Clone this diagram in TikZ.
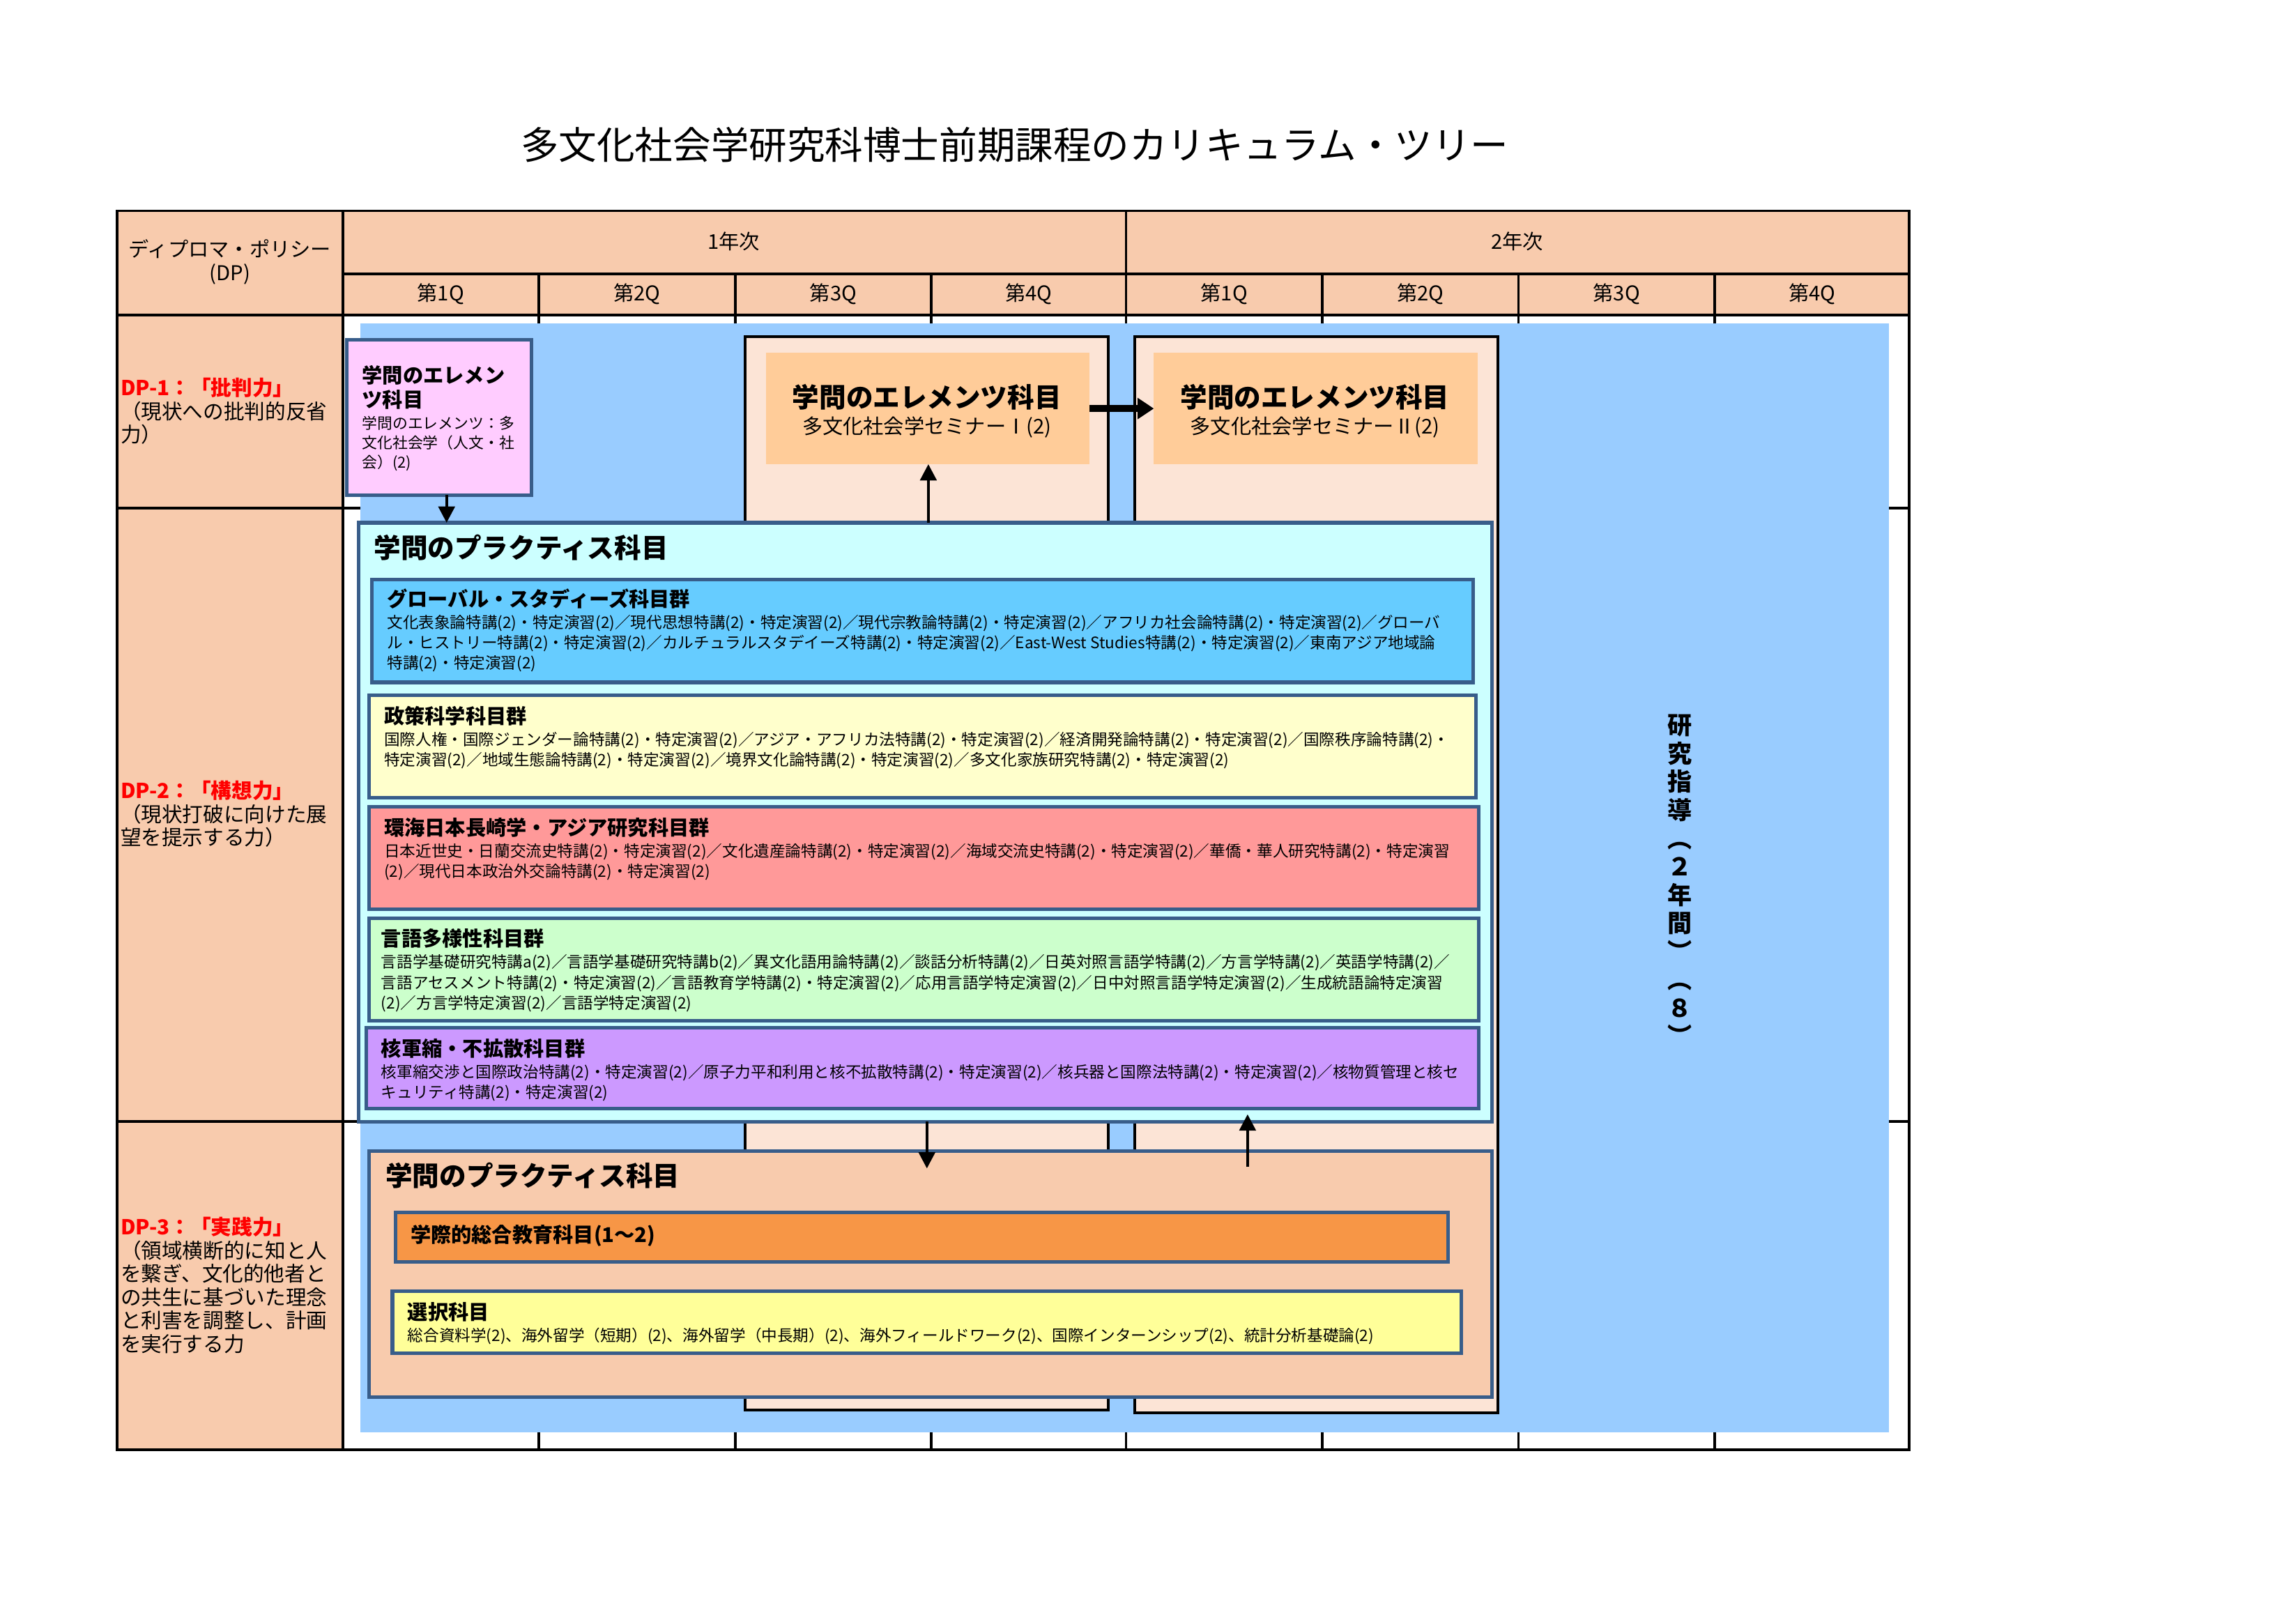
\documentclass[tikz,border=0pt]{standalone}
\usepackage{fontspec}
\setmainfont{Noto Sans CJK JP}
\usetikzlibrary{arrows.meta,fit,calc}
\definecolor{peach}{HTML}{F8CBAD}
\definecolor{bgblue}{HTML}{99CCFF}
\definecolor{lightpeach}{HTML}{FCE4D6}
\definecolor{semorange}{HTML}{FFCC99}
\definecolor{pinkbox}{HTML}{FFCCFF}
\definecolor{pracfill}{HTML}{CCFFFF}
\definecolor{globfill}{HTML}{66CCFF}
\definecolor{polfill}{HTML}{FFFFCC}
\definecolor{asiafill}{HTML}{FF9999}
\definecolor{langfill}{HTML}{CCFFCC}
\definecolor{nucfill}{HTML}{CC99FF}
\definecolor{interfill}{HTML}{F79646}
\definecolor{electfill}{HTML}{FFFF99}
\definecolor{dkblue}{HTML}{385D8A}
\tikzset{
  tbl/.style={line width=1pt, black},
  rect/.style={inner sep=0pt, outer sep=0pt},
  bbord/.style={rect, draw=dkblue, line width=1.3pt},
  kbord/.style={rect, draw=black, line width=1pt},
  arr/.style={line width=1.1pt, -{Triangle[length=6pt,width=6pt]}},
  fatarr/.style={line width=2.6pt, -{Triangle[length=6pt,width=7.5pt]}},
  tx/.style={inner sep=0pt, anchor=north west, align=left},
  course/.style={tx, font=\fontsize{5.8}{7.5}\selectfont},
  gtitle/.style={tx, font=\bfseries\fontsize{7.5}{9}\selectfont},
  bigtitle/.style={tx, font=\bfseries\fontsize{9.9}{12}\selectfont},
  hdr/.style={inner sep=0pt, align=center, font=\fontsize{7.5}{8.6}\selectfont},
  dptext/.style={tx, font=\fontsize{7.6}{8.6}\selectfont},
}
\begin{document}
\begin{tikzpicture}[x=0.18941mm, y=-0.18941mm]
\useasboundingbox (0,0) rectangle (1568,1109);
\fill[white] (0,0) rectangle (1568,1109);

% title
\node[inner sep=0pt, font=\fontsize{14}{16}\selectfont] (title) at (693,99) {多文化社会学研究科博士前期課程のカリキュラム・ツリー};

% table fills
\fill[peach] (80,144) rectangle (1304,215);
\fill[peach] (80,215) rectangle (234,990);
% grid
\draw[tbl] (80,144) rectangle (1304,990);
\draw[tbl] (234,144) -- (234,990);
\draw[tbl] (769,144) -- (769,990);
\draw[tbl] (234,187) -- (1304,187);
\foreach \xx in {368,502,636,903,1037,1171} \draw[tbl] (\xx,187) -- (\xx,990);
\foreach \yy in {215,347,766} \draw[tbl] (80,\yy) -- (1304,\yy);

% header texts
\node[hdr] (dphead) at (157,179) {ディプロマ・ポリシー\\(DP)};
\node[hdr] (y1) at (501,165) {1年次};
\node[hdr] (y2) at (1036,165) {2年次};
\foreach \xx/\qq/\nm in {301/1/q11,435/2/q12,569/3/q13,702.5/4/q14,836/1/q21,970/2/q22,1104/3/q23,1237.5/4/q24}
  \node[hdr] (\nm) at (\xx,201) {第\qq Q};

% DP labels
\node[dptext] (dp1) at (82,257.9) {{\color{red}\bfseries DP-1：「批判力」}\\（現状への批判的反省\\力）};
\node[dptext] (dp2) at (82,532.9) {{\color{red}\bfseries DP-2：「構想力」}\\（現状打破に向けた展\\望を提示する力）};
\node[dptext] (dp3) at (82,830.9) {{\color{red}\bfseries DP-3：「実践力」}\\（領域横断的に知と人\\を繋ぎ、文化的他者と\\の共生に基づいた理念\\と利害を調整し、計画\\を実行する力};

% blue background
\node[rect, fill=bgblue, fit={(246,221)(1290,978)}] (bg) {};

% seminar outer boxes
\node[kbord, fill=lightpeach, fit={(509,230)(757,963)}] (semouter1) {};
\node[kbord, fill=lightpeach, fit={(775,230)(1023,965)}] (semouter2) {};
\node[rect, fill=semorange, fit={(523,241)(744,317)}] (sem1) {};
\node[rect, fill=semorange, fit={(788,241)(1009,317)}] (sem2) {};
\node[inner sep=0pt, font=\bfseries\fontsize{9.9}{12}\selectfont] (sem1t) at (633,271) {学問のエレメンツ科目};
\node[inner sep=0pt, font=\fontsize{7.5}{9}\selectfont] (sem1s) at (633,292) {多文化社会学セミナーⅠ(2)};
\node[inner sep=0pt, font=\bfseries\fontsize{9.9}{12}\selectfont] (sem2t) at (898,271) {学問のエレメンツ科目};
\node[inner sep=0pt, font=\fontsize{7.5}{9}\selectfont] (sem2s) at (898,292) {多文化社会学セミナーⅡ(2)};

% pink elements box
\node[bbord, fill=pinkbox, fit={(237,232)(363,338)}] (pink) {};
\node[tx, font=\bfseries\fontsize{7.5}{9.1}\selectfont] (pinkt) at (247,249) {学問のエレメン\\ツ科目};
\node[tx, font=\fontsize{5.6}{7.25}\selectfont] (pinkb) at (247,283.8) {学問のエレメンツ：多\\文化社会学（人文・社\\会）(2)};

% practice box
\node[bbord, fill=pracfill, fit={(245,357)(1019,766)}] (prac) {};
\node[bigtitle] (pract) at (255,364.7) {学問のプラクティス科目};

\node[bbord, fill=globfill, fit={(254,396)(1006,466)}] (glob) {};
\node[gtitle] (globt) at (264,402) {グローバル・スタディーズ科目群};
\node[course] (globb) at (264,419.6) {文化表象論特講(2)・特定演習(2)／現代思想特講(2)・特定演習(2)／現代宗教論特講(2)・特定演習(2)／アフリカ社会論特講(2)・特定演習(2)／グローバ\\ル・ヒストリー特講(2)・特定演習(2)／カルチュラルスタデイーズ特講(2)・特定演習(2)／East-West Studies特講(2)・特定演習(2)／東南アジア地域論\\特講(2)・特定演習(2)};

\node[bbord, fill=polfill, fit={(252,475)(1008,545)}] (pol) {};
\node[gtitle] (polt) at (262,482) {政策科学科目群};
\node[course] (polb) at (262,499.6) {国際人権・国際ジェンダー論特講(2)・特定演習(2)／アジア・アフリカ法特講(2)・特定演習(2)／経済開発論特講(2)・特定演習(2)／国際秩序論特講(2)・\\特定演習(2)／地域生態論特講(2)・特定演習(2)／境界文化論特講(2)・特定演習(2)／多文化家族研究特講(2)・特定演習(2)};

\node[bbord, fill=asiafill, fit={(252,551)(1010,621)}] (asia) {};
\node[gtitle] (asiat) at (262,558) {環海日本長崎学・アジア研究科目群};
\node[course] (asiab) at (262,575.6) {日本近世史・日蘭交流史特講(2)・特定演習(2)／文化遺産論特講(2)・特定演習(2)／海域交流史特講(2)・特定演習(2)／華僑・華人研究特講(2)・特定演習\\(2)／現代日本政治外交論特講(2)・特定演習(2)};

\node[bbord, fill=langfill, fit={(252,627)(1010,697)}] (lang) {};
\node[gtitle] (langt) at (260,634) {言語多様性科目群};
\node[course] (langb) at (260,651.6) {言語学基礎研究特講a(2)／言語学基礎研究特講b(2)／異文化語用論特講(2)／談話分析特講(2)／日英対照言語学特講(2)／方言学特講(2)／英語学特講(2)／\\言語アセスメント特講(2)・特定演習(2)／言語教育学特講(2)・特定演習(2)／応用言語学特定演習(2)／日中対照言語学特定演習(2)／生成統語論特定演習\\(2)／方言学特定演習(2)／言語学特定演習(2)};

\node[bbord, fill=nucfill, fit={(250,702)(1010,757)}] (nuc) {};
\node[gtitle] (nuct) at (260,709) {核軍縮・不拡散科目群};
\node[course] (nucb) at (260,726.6) {核軍縮交渉と国際政治特講(2)・特定演習(2)／原子力平和利用と核不拡散特講(2)・特定演習(2)／核兵器と国際法特講(2)・特定演習(2)／核物質管理と核セ\\キュリティ特講(2)・特定演習(2)};

% lower practice box
\node[bbord, fill=peach, fit={(252,786)(1019,954)}] (lower) {};
\node[bigtitle] (lowert) at (263,793.7) {学問のプラクティス科目};
\node[bbord, fill=interfill, fit={(270,828)(989,862)}] (inter) {};
\node[inner sep=0pt, anchor=west, font=\bfseries\fontsize{7.5}{9}\selectfont] (intert) at (280,844) {学際的総合教育科目(1～2)};
\node[bbord, fill=electfill, fit={(268,882)(998,924)}] (elect) {};
\node[gtitle] (electt) at (278,889) {選択科目};
\node[course] (electb) at (278,906.6) {総合資料学(2)、海外留学（短期）(2)、海外留学（中長期）(2)、海外フィールドワーク(2)、国際インターンシップ(2)、統計分析基礎論(2)};

% research guidance vertical text
\node[inner sep=0pt, align=center, font=\bfseries\fontsize{9}{10.4}\selectfont] (kenkyu) at (1147,601) {研\\究\\指\\導\\︵\\２\\年\\間\\︶\\︵\\８\\︶};

% connectors
\coordinate (cx305) at (305,0);
\coordinate (cx634) at (634,0);
\coordinate (cx633) at (633,0);
\coordinate (cx852) at (852,0);
\draw[arr] (pink.south -| cx305) -- (prac.north -| cx305);
\draw[arr] (prac.north -| cx634) -- (sem1.south -| cx634);
\draw[fatarr] (sem1.east) -- (sem2.west);
\draw[arr] (prac.south -| cx633) -- ($(lower.north -| cx633)+(0,12)$);
\draw[arr] ($(lower.north -| cx852)+(0,11)$) -- ($(prac.south -| cx852)+(0,-5)$);
\end{tikzpicture}
\end{document}
